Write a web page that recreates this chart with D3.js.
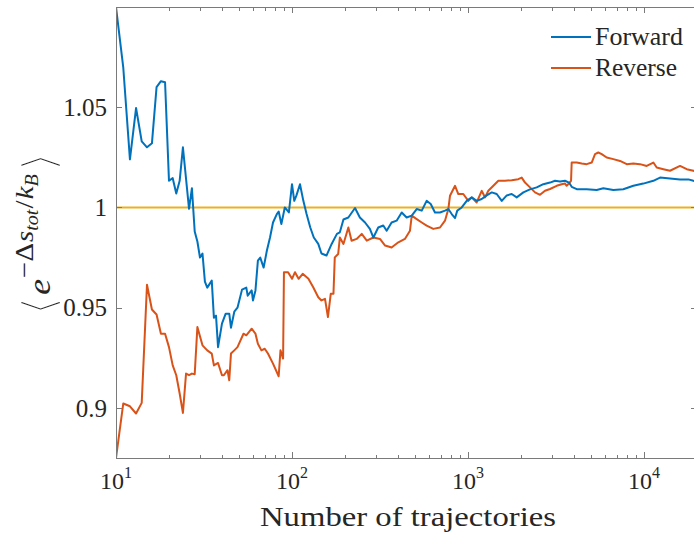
<!DOCTYPE html>
<html><head><meta charset="utf-8">
<script src="https://cdn.jsdelivr.net/npm/d3@7"></script>
<style>html,body{margin:0;padding:0;background:#fff}svg{display:block}</style>
</head><body>
<svg id="c" width="694" height="534"></svg>
<script>
// ---- data ----
const forwardN = [10,11,12,13,14,15,16,17,18,19,20,21,22,23,24,26,27,28,29,30,31,32,33,35,36,37,38,40,42,44,45,47,49,52,55,56,59,60,62,64,66,69,72,75,78,82,84,87,91,96,100,103,106,111,116,121,127,133,141,147,157,168,180,187,196,209,228,243,260,277,290,309,330,345,368,393,420,448,479,511,546,582,614,649,693,740,773,808,844,869,921,983,1050,1120,1196,1277,1364,1456,1555,1660,1771,1891,2063,2250,2457,2679,2925,3122,3333,3557,3749,3882,4147,4726,5383,5873,6693,7627,8697,9906,11300,12330,14050,16020,17870,19070,20000];
const forwardVal = [1.100,1.0697,1.024,1.0496,1.033,1.030,1.032,1.060,1.063,1.0625,1.0133,1.0146,1.007,1.0133,1.030,0.9993,1.0096,0.988,0.983,0.975,0.977,0.963,0.960,0.9635,0.945,0.946,0.9303,0.942,0.947,0.947,0.940,0.948,0.950,0.959,0.960,0.956,0.9586,0.9536,0.9586,0.9735,0.975,0.970,0.9785,0.985,0.9925,0.9967,0.998,0.9917,1.0,0.9975,1.0116,1.0033,1.006,1.0116,1.0033,0.9967,0.990,0.985,0.9818,0.977,0.976,0.9818,0.9868,0.9876,0.994,0.995,0.9997,0.995,0.9925,0.9893,0.985,0.990,0.991,0.9884,0.9925,0.9934,0.9975,0.995,0.9959,0.9992,0.9984,1.0033,1.0017,0.9975,0.9975,0.9984,0.9992,0.9967,0.9947,0.9984,1.0,1.0033,1.005,1.0033,1.0042,1.006,1.0075,1.0067,1.0033,1.006,1.0067,1.005,1.0075,1.009,1.010,1.0116,1.0124,1.0133,1.013,1.0133,1.0124,1.0103,1.0091,1.0091,1.0087,1.0096,1.0087,1.0091,1.0108,1.0119,1.0133,1.0149,1.0144,1.014,1.014,1.0133,1.013];
const reverseN = [10,11,12,13,14,15,16,17,18,19,20,21,22,23,24,25,26,27,28,29,31,33,35,36,38,40,41,43,44,45,47,49,53,55,59,62,64,67,70,73,78,84,86,89,90,95,100,104,109,115,124,132,141,147,154,160,166,172,175,183,187,196,209,218,233,249,266,290,316,338,368,402,438,468,479,511,546,582,635,693,740,773,790,844,881,940,1004,1050,1120,1196,1250,1304,1393,1487,1623,1771,1931,2019,2108,2250,2403,2565,2738,2925,3190,3405,3557,3636,3850,3882,4147,4428,4726,5045,5268,5500,5750,6138,6693,7306,7977,8697,9484,10360,11300,11810,12880,14050,16020,17490,19070,20000];
const reverseVal = [0.875,0.9022,0.9008,0.8972,0.9025,0.9614,0.9491,0.9466,0.937,0.937,0.9303,0.9212,0.9163,0.9072,0.8975,0.9171,0.9163,0.9171,0.9168,0.9403,0.9312,0.9287,0.9271,0.9212,0.9224,0.9163,0.9163,0.9188,0.9138,0.9271,0.9287,0.9303,0.937,0.9362,0.9395,0.937,0.932,0.9287,0.9295,0.9271,0.9221,0.9158,0.9287,0.9246,0.9677,0.9677,0.9644,0.9677,0.9644,0.9669,0.9644,0.9602,0.9552,0.9536,0.9544,0.9453,0.9569,0.9569,0.9751,0.9768,0.985,0.9818,0.990,0.9834,0.9843,0.9868,0.9834,0.985,0.9843,0.981,0.980,0.9826,0.9843,0.9884,0.9959,0.9942,0.9925,0.9909,0.9893,0.990,0.9934,0.9992,1.0058,1.0108,1.0067,1.0067,1.0033,1.005,1.0025,1.0083,1.005,1.0083,1.0108,1.0133,1.0133,1.0136,1.0141,1.0149,1.0124,1.010,1.0075,1.0063,1.0083,1.0092,1.0108,1.0116,1.0119,1.0108,1.0133,1.0224,1.0224,1.0219,1.0216,1.0224,1.0266,1.0274,1.0266,1.0249,1.0241,1.0232,1.0216,1.0219,1.0216,1.0207,1.0224,1.0199,1.0191,1.0183,1.0207,1.0191,1.0183,1.018];
const referenceLevel = 1;
const xMajorTicks = [10,100,1000,10000];
const xTickExponents = ["1","2","3","4"];
const yTicks = [0.9,0.95,1,1.05];
const yTickLabels = ["0.9","0.95","1","1.05"];
const seriesNames = ["Forward","Reverse"];
const xDomain = [10, 20000];
const yDomain = [0.875, 1.1];

// ---- layout ----
const L = 116, R = 697, T = 7, B = 458;
const FONT = "Liberation Serif";
const TXT = "#262626", AX = "#7a7a7a";
const colors = {Forward:"#0072BD", Reverse:"#D95319", ref:"#EDB120"};

const svg = d3.select("#c");
svg.append("rect").attr("width",694).attr("height",534).attr("fill","#fff");

const x = d3.scaleLog().domain(xDomain).range([L,R]);
const y = d3.scaleLinear().domain(yDomain).range([B,T]);

svg.append("defs").append("clipPath").attr("id","clip")
  .append("rect").attr("x",L).attr("y",T).attr("width",R-L).attr("height",B-T);

const plot = svg.append("g").attr("clip-path","url(#clip)");

plot.append("line").attr("x1",x(xDomain[0])).attr("x2",x(xDomain[1]))
  .attr("y1",y(referenceLevel)).attr("y2",y(referenceLevel))
  .attr("stroke",colors.ref).attr("stroke-width",2);

const line = d3.line().x(d=>x(d[0])).y(d=>y(d[1]));
const fwd = forwardN.map((n,i)=>[n,forwardVal[i]]);
const rev = reverseN.map((n,i)=>[n,reverseVal[i]]);
plot.append("path").datum(rev).attr("d",line).attr("fill","none")
  .attr("stroke",colors.Reverse).attr("stroke-width",2).attr("stroke-linejoin","round");
plot.append("path").datum(fwd).attr("d",line).attr("fill","none")
  .attr("stroke",colors.Forward).attr("stroke-width",2).attr("stroke-linejoin","round");

// axes box
const ax = svg.append("g").attr("stroke",AX).attr("stroke-width",1).attr("shape-rendering","crispEdges");
ax.append("line").attr("x1",L).attr("x2",R).attr("y1",B+0.5).attr("y2",B+0.5);
ax.append("line").attr("x1",L).attr("x2",R).attr("y1",T+0.5).attr("y2",T+0.5);
ax.append("line").attr("x1",L+0.5).attr("x2",L+0.5).attr("y1",T).attr("y2",B);
ax.append("line").attr("x1",R-0.5).attr("x2",R-0.5).attr("y1",T).attr("y2",B);

x.ticks().forEach(v=>{
  const major = xMajorTicks.includes(v);
  const len = major ? 6 : 3.5;
  const px = Math.round(x(v))+0.5;
  ax.append("line").attr("x1",px).attr("x2",px).attr("y1",B).attr("y2",B-len);
  ax.append("line").attr("x1",px).attr("x2",px).attr("y1",T).attr("y2",T+len);
});
yTicks.forEach(v=>{
  const py = Math.round(y(v))+0.5;
  ax.append("line").attr("x1",L).attr("x2",L+6).attr("y1",py).attr("y2",py);
  ax.append("line").attr("x1",R).attr("x2",R-6).attr("y1",py).attr("y2",py);
});

xMajorTicks.forEach((v,i)=>{
  const t = svg.append("text").attr("x",x(v)).attr("y",489).attr("text-anchor","middle")
    .style("font-family",FONT).attr("font-size",24).attr("fill",TXT);
  t.append("tspan").text("10");
  t.append("tspan").attr("font-size",16).attr("dy",-11).text(xTickExponents[i]);
});
yTicks.forEach((v,i)=>{
  svg.append("text").attr("x",107).attr("y",y(v)).attr("dy","0.35em").attr("text-anchor","end")
    .style("font-family",FONT).attr("font-size",25).attr("fill",TXT).text(yTickLabels[i]);
});

svg.append("text").attr("x",408).attr("y",526).attr("text-anchor","middle")
  .style("font-family",FONT).attr("font-size",28).attr("fill",TXT)
  .attr("textLength",296).attr("lengthAdjust","spacingAndGlyphs")
  .text("Number of trajectories");

// y label  ⟨e^{-Δ s_tot / k_B}⟩
const yl = svg.append("g").attr("transform","translate(50,234) rotate(-90)");
const ys = yl.append("g");
const yt = ys.append("text").attr("x",0).attr("y",0).attr("text-anchor","middle")
  .style("font-family",FONT).attr("fill",TXT).attr("font-size",32);
const BR = "'DejaVu Sans',sans-serif";
yt.append("tspan").style("font-family",BR).attr("font-size",46).attr("dy",5)
  .attr("stroke","#fff").attr("stroke-width",2.6).text("⟨");
yt.append("tspan").attr("font-style","italic").attr("dy",-5).attr("dx",1).text("e");
yt.append("tspan").attr("font-size",26).attr("dy",-17).attr("dx",1).text("−Δ");
yt.append("tspan").attr("font-size",26).attr("font-style","italic").attr("dx",1).text("s");
yt.append("tspan").attr("font-size",18).attr("font-style","italic").attr("dy",5).text("tot");
yt.append("tspan").attr("font-size",26).attr("dy",-5).attr("dx",1).text("/");
yt.append("tspan").attr("font-size",26).attr("font-style","italic").attr("dx",1).text("k");
yt.append("tspan").attr("font-size",18).attr("font-style","italic").attr("dy",5).text("B");
yt.append("tspan").style("font-family",BR).attr("font-size",46).attr("dy",17).attr("dx",2)
  .attr("stroke","#fff").attr("stroke-width",2.6).text("⟩");
const len = yt.node().getComputedTextLength();
if (len > 0) { const k = Math.max(0.85, Math.min(1.2, 156/len)); ys.attr("transform",`scale(${k},1)`); }

// legend
const lg = svg.append("g");
seriesNames.forEach((s,i)=>{
  const cy = 37 + i*31;
  lg.append("line").attr("x1",551).attr("x2",591).attr("y1",cy).attr("y2",cy)
    .attr("stroke",colors[s]).attr("stroke-width",2);
  lg.append("text").attr("x",595).attr("y",cy+8).style("font-family",FONT).attr("font-size",25)
    .attr("fill",TXT).attr("textLength", i===0?88:82).attr("lengthAdjust","spacingAndGlyphs").text(s);
});
</script>
</body></html>
